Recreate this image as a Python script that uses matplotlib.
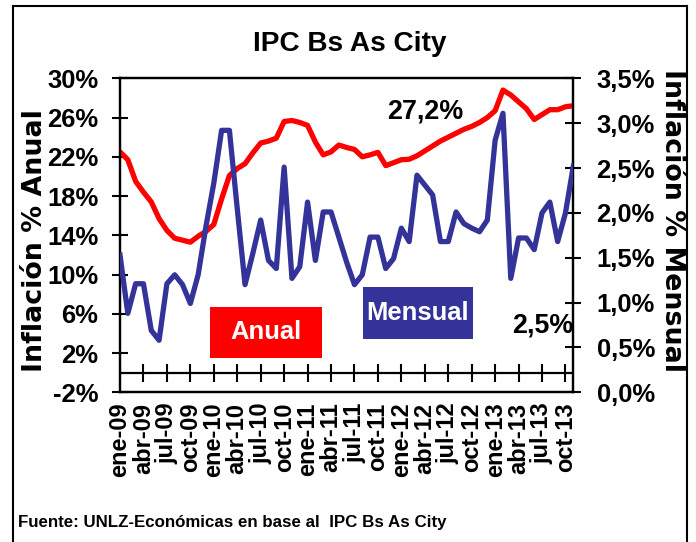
import numpy as np
import matplotlib
matplotlib.use("Agg")
import matplotlib.pyplot as plt
from matplotlib import font_manager
from matplotlib.patches import Rectangle
from matplotlib.lines import Line2D

# Inflación anual (%), eje izquierdo, ene-09 .. nov-13
anual = [22.5, 21.7, 19.5, 18.4, 17.4, 15.7, 14.5, 13.7, 13.5, 13.3,
         13.9, 14.4, 15.1, 17.7, 20.1, 20.8, 21.3, 22.4, 23.4, 23.6,
         23.9, 25.6, 25.7, 25.5, 25.2, 23.5, 22.2, 22.5, 23.2, 22.95,
         22.75, 22.0, 22.2, 22.45, 21.1, 21.4, 21.7, 21.75, 22.1, 22.6,
         23.1, 23.6, 24.0, 24.4, 24.8, 25.1, 25.5, 26.0, 26.7, 28.8,
         28.3, 27.6, 26.9, 25.8, 26.3, 26.8, 26.8, 27.1, 27.2]

# Inflación mensual (%), eje derecho
mensual = [1.53, 0.88, 1.21, 1.21, 0.69, 0.58, 1.21, 1.31, 1.20, 0.99,
           1.31, 1.85, 2.33, 2.92, 2.92, 2.05, 1.20, 1.55, 1.92, 1.47,
           1.38, 2.51, 1.27, 1.40, 2.12, 1.47, 2.01, 2.01, 1.73, 1.45,
           1.20, 1.31, 1.73, 1.73, 1.38, 1.49, 1.83, 1.68, 2.42, 2.31,
           2.20, 1.68, 1.68, 2.01, 1.88, 1.83, 1.79, 1.92, 2.81, 3.11,
           1.27, 1.72, 1.72, 1.59, 2.00, 2.12, 1.68, 2.00, 2.52]

etiquetas = ["ene-09", "abr-09", "jul-09", "oct-09",
             "ene-10", "abr-10", "jul-10", "oct-10",
             "ene-11", "abr-11", "jul-11", "oct-11",
             "ene-12", "abr-12", "jul-12", "oct-12",
             "ene-13", "abr-13", "jul-13", "oct-13"]

ticks_anual = [-2, 2, 6, 10, 14, 18, 22, 26, 30]
ticks_mensual = [0.0, 0.5, 1.0, 1.5, 2.0, 2.5, 3.0, 3.5]

ROJO = "#FF0000"
AZUL = "#333399"

instaladas = {f.name for f in font_manager.fontManager.ttflist}
if "Liberation Sans Narrow" in instaladas:
    ANGOSTA, esc = "Liberation Sans Narrow", 1.0
else:
    ANGOSTA, esc = "Liberation Sans", 0.84
ARIAL = "Liberation Sans"

W, H = 696, 542
fig = plt.figure(figsize=(W / 100, H / 100), dpi=100)
ax = fig.add_axes([120 / W, 1 - 392.3 / H, 453.3 / W, 314 / H])
ax2 = ax.twinx()

meses = np.arange(len(anual))
pos_etiquetas = meses[::3]

ax.plot(meses, anual, color=ROJO, lw=3.8, zorder=3)
ax2.plot(meses, mensual, color=AZUL, lw=3.8, zorder=3)

ax.set_xlim(0, len(anual) - 1)
ax.set_ylim(-2, 30)
ax2.set_ylim(0, 3.5)

# eje x cruzando en 0 %
ax.axhline(0, color="k", lw=1.6, zorder=2)
ax.plot(pos_etiquetas, np.zeros(len(pos_etiquetas)), ls="none", marker="|",
        ms=13, mew=1.5, color="k", zorder=2)

ax.set_xticks(pos_etiquetas)
ax.set_xticklabels(etiquetas, rotation=90, fontsize=17, fontweight="bold",
                   family=ARIAL)
ax.tick_params(axis="x", length=0, pad=7.5)

ax.set_yticks(ticks_anual)
ax.set_yticklabels([f"{v}%" for v in ticks_anual], fontsize=22 * esc,
                   fontweight="bold", family=ANGOSTA)
ax.tick_params(axis="y", direction="inout", length=11.5, width=1.5, pad=10)

ax2.set_yticks(ticks_mensual)
ax2.set_yticklabels([f"{v:.1f}%".replace(".", ",") for v in ticks_mensual],
                    fontsize=22 * esc, fontweight="bold", family=ANGOSTA)
ax2.tick_params(axis="y", direction="inout", length=11.5, width=1.5, pad=11)

for a in (ax, ax2):
    for s in a.spines.values():
        s.set_linewidth(1.6)

# recuadros de leyenda
ax.add_patch(Rectangle((0.1985, 0.1102), 0.2464, 0.1624, transform=ax.transAxes,
                       facecolor=ROJO, edgecolor="none", zorder=4))
ax.text(0.1985 + 0.2464 / 2, 0.1102 + 0.1624 / 2, "Anual", transform=ax.transAxes,
        ha="center", va="center", color="white", fontsize=22 * esc,
        fontweight="bold", family=ANGOSTA, zorder=5)
ax2.add_patch(Rectangle((0.5354, 0.1688), 0.2427, 0.1675, transform=ax2.transAxes,
                        facecolor=AZUL, edgecolor="none", zorder=4))
ax2.text(0.5354 + 0.2427 / 2, 0.1688 + 0.1675 / 2, "Mensual",
         transform=ax2.transAxes, ha="center", va="center", color="white",
         fontsize=22 * esc, fontweight="bold", family=ANGOSTA, zorder=5)

ax2.text(0.673, 0.894, "27,2%", transform=ax2.transAxes, ha="center",
         va="center", fontsize=23 * esc, fontweight="bold", family=ANGOSTA)
ax2.text(0.9336, 0.2127, "2,5%", transform=ax2.transAxes, ha="center",
         va="center", fontsize=23 * esc, fontweight="bold", family=ANGOSTA)

fig.text(350 / W, 1 - 44.5 / H, "IPC Bs As City", ha="center", va="center",
         fontsize=24 * esc, fontweight="bold", family=ANGOSTA)
fig.text(35 / W, 1 - 240.5 / H, "Inflación % Anual", rotation=90,
         ha="center", va="center", fontsize=19.4, fontweight="bold",
         family="DejaVu Sans")
fig.text(672 / W, 1 - 220.5 / H, "Inflación % Mensual", rotation=270,
         ha="center", va="center", fontsize=19.4, fontweight="bold",
         family="DejaVu Sans")
fig.text(18 / W, 1 - 523 / H, "Fuente: UNLZ-Económicas en base al  IPC Bs As City",
         ha="left", va="center", fontsize=14.5 * esc, fontweight="bold",
         family=ANGOSTA)

# marco exterior
for xs, ys in [([12.5, 12.5], [H, 6]), ([12.5, 686.5], [6, 6]),
               ([686.5, 686.5], [6, H])]:
    fig.add_artist(Line2D([x / W for x in xs], [1 - y / H for y in ys],
                          color="k", lw=1.5))

fig.savefig("out.png", dpi=100)
